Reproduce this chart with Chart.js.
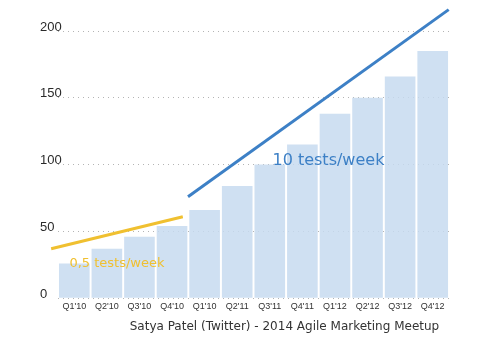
<!DOCTYPE html>
<html><head><meta charset="utf-8">
<script src="https://cdn.jsdelivr.net/npm/chart.js@4"></script>
<style>html,body{margin:0;padding:0;background:#fff;} #wrap{width:485px;height:357px;position:relative;}</style>
</head><body><div id="wrap"><canvas id="c" width="485" height="357"></canvas></div>
<script>
const categories = ["Q1'10","Q2'10","Q3'10","Q4'10","Q1'10","Q2'11","Q3'11","Q4'11","Q1'12","Q2'12","Q3'12","Q4'12"];
const testsPerQuarter = [26,37,46,54,66,84,100,115,138,150,166,185];
const yTicks = [0,50,100,150,200];
const slowTrendX = [-0.71, 3.33];
const slowTrendY = [37, 61];
const fastTrendX = [3.49, 11.49];
const fastTrendY = [76, 216];
const slowLabel = '0,5 tests/week';
const fastLabel = '10 tests/week';
const caption = 'Satya Patel (Twitter) - 2014 Agile Marketing Meetup';

const YELLOW = '#f0c030';
const BLUE = '#3d80c6';

const textPlugin = {
  id: 'texts',
  afterDatasetsDraw(chart) {
    const ctx = chart.ctx, xl = chart.scales.xl, y = chart.scales.y;
    ctx.save();
    ctx.textAlign = 'center';
    ctx.textBaseline = 'middle';
    ctx.font = '13px "DejaVu Sans"';
    ctx.fillStyle = YELLOW;
    ctx.fillText(slowLabel, xl.getPixelForValue(1.31), y.getPixelForValue(26.2));
    ctx.font = '16px "DejaVu Sans"';
    ctx.fillStyle = BLUE;
    ctx.fillText(fastLabel, xl.getPixelForValue(7.8), y.getPixelForValue(103));
    ctx.font = '12px "DejaVu Sans"';
    ctx.fillStyle = '#333';
    ctx.fillText(caption, xl.getPixelForValue(6.45), y.getPixelForValue(-21.7));
    ctx.restore();
  }
};

new Chart(document.getElementById('c'), {
  type: 'bar',
  data: {
    labels: categories,
    datasets: [
      {
        type: 'bar', xAxisID: 'x', yAxisID: 'y',
        data: testsPerQuarter,
        backgroundColor: 'rgba(199,219,240,0.85)',
        barPercentage: 0.94, categoryPercentage: 1.0, grouped: false,
        order: 2
      },
      {
        type: 'line', xAxisID: 'xl', yAxisID: 'y',
        data: slowTrendX.map((x, i) => ({x: x, y: slowTrendY[i]})),
        borderColor: YELLOW, borderWidth: 3, pointRadius: 0, fill: false, clip: false,
        order: 1
      },
      {
        type: 'line', xAxisID: 'xl', yAxisID: 'y',
        data: fastTrendX.map((x, i) => ({x: x, y: fastTrendY[i]})),
        borderColor: BLUE, borderWidth: 3, pointRadius: 0, fill: false, clip: false,
        order: 0
      }
    ]
  },
  options: {
    responsive: false,
    devicePixelRatio: 1,
    animation: false,
    layout: { padding: { left: 58, right: 36, top: 31, bottom: 42 } },
    plugins: { legend: { display: false }, tooltip: { enabled: false }, title: { display: false } },
    scales: {
      x: {
        type: 'category', offset: true,
        grid: { display: false, drawTicks: false, offset: true }, border: { display: false },
        ticks: { font: { family: 'Liberation Sans', size: 9 }, color: '#333', padding: 3, maxRotation: 0, autoSkip: false }
      },
      xl: { type: 'linear', display: false, offset: false, min: -0.5, max: 11.5, grid: { offset: false } },
      y: {
        min: 0, max: 200,
        afterBuildTicks: s => { s.ticks = yTicks.map(v => ({value: v})); },
        grid: { color: 'rgba(130,130,130,0.6)', lineWidth: 1, drawTicks: false },
        border: { display: false, dash: [1, 4] },
        ticks: { font: { family: 'Liberation Sans', size: 13 }, color: '#2a2a2a', mirror: true, crossAlign: 'near', labelOffset: -4, padding: -6 }
      }
    }
  },
  plugins: [textPlugin]
});
</script>
</body></html>
